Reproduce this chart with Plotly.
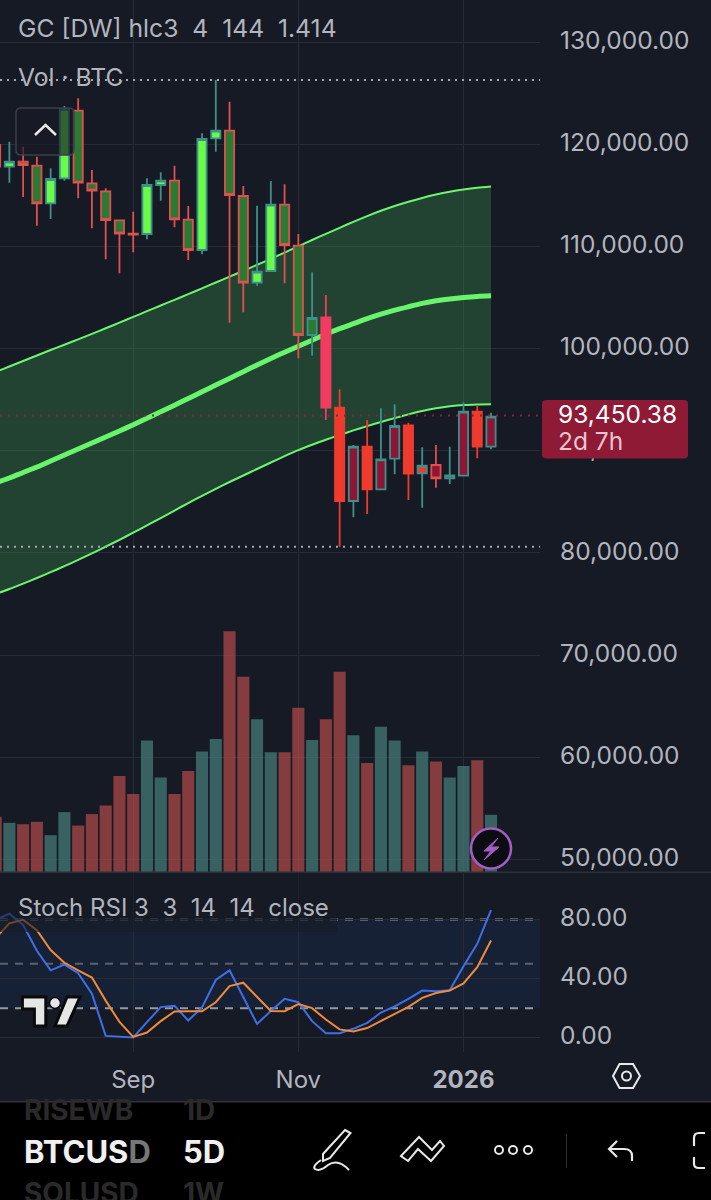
# BTCUSD 5D 图表：蜡烛 + 高斯通道 + 成交量 + Stoch RSI
import plotly.graph_objects as go

# K线索引（最后一根为 0）
bar_index = list(range(-36, 1))

candle_open = [119922, 117798, 118288, 117896, 114217, 116663, 123278, 116174, 115391, 112554, 111242, 111213, 116008,
               116428, 112612, 109648, 120577, 121321, 114931, 106448, 107593, 114080, 110068, 101330, 103063, 94217,
               85087, 90401, 86232, 89226, 92494, 87798, 88610, 87308, 87563, 93825, 90401]
candle_close = [117798, 118288, 117965, 114217, 116595, 123444, 116233, 115450, 112583, 111242, 111164, 116008, 116428,
                112652, 109648, 120509, 121321, 115029, 106448, 107525, 114080, 110137, 101330, 102993, 94217, 85087,
                90401, 86232, 89168, 92426, 87759, 88541, 87308, 87601, 93825, 90401, 93336]
candle_high = [120900, 120245, 119756, 118777, 117642, 123738, 124491, 117476, 115685, 112583, 113395, 116663, 117250,
               117896, 113953, 121067, 126282, 124159, 115910, 113982, 116399, 116076, 111213, 107465, 105244, 96017,
               90567, 93013, 94158, 94548, 92749, 90342, 90567, 90401, 94745, 94413, 93727]
candle_low = [116986, 116233, 114833, 112025, 112681, 116428, 114706, 111771, 108737, 107367, 109423, 110694, 114472,
              111869, 108669, 109227, 119266, 102534, 103551, 106154, 107593, 106389, 99051, 99305, 93013, 80617,
              83492, 83815, 86232, 87700, 85185, 84432, 86388, 86750, 87563, 89265, 90145]
candle_body = ['dark', 'bright', 'dark', 'dark', 'bright', 'bright', 'dark', 'dark', 'dark', 'dark', 'dark', 'bright',
               'bright', 'dark', 'dark', 'bright', 'bright', 'dark', 'dark', 'bright', 'bright', 'dark', 'dark', 'dark',
               'pink', 'red', 'crimson', 'red', 'crimson', 'crimson', 'red', 'red', 'crimson', 'crimson', 'crimson',
               'red', 'crimson']

band_upper = [97710, 98248, 98786, 99324, 99862, 100381, 100900, 101438, 101986, 102543, 103101, 103659, 104217,
              104775, 105332, 105900, 106467, 107035, 107612, 108199, 108786, 109393, 110009, 110626, 111233, 111820,
              112407, 112965, 113483, 113953, 114374, 114745, 115068, 115342, 115567, 115743, 115861]
band_mid = [86849, 87337, 87876, 88414, 89000, 89588, 90175, 90763, 91350, 91937, 92553, 93189, 93825, 94461, 95116,
            95772, 96428, 97083, 97739, 98400, 99032, 99648, 100234, 100822, 101409, 101947, 102436, 102925, 103366,
            103757, 104099, 104422, 104677, 104853, 105000, 105107, 105166]
band_lower = [75987, 76476, 77005, 77553, 78120, 78708, 79324, 79960, 80616, 81291, 81985, 82700, 83423, 84157, 84891,
              85595, 86280, 86946, 87582, 88219, 88855, 89472, 90059, 90585, 91076, 91545, 91995, 92416, 92818, 93199,
              93561, 93894, 94158, 94354, 94481, 94540, 94559]

volume = [55.2, 49.2, 47.8, 50.2, 36.8, 59.9, 46.5, 57.9, 66.6, 96.0, 77.9, 131.4, 94.6, 77.9, 101.0, 120.4, 133.1,
          240.8, 195.3, 152.8, 119.7, 119.7, 164.2, 132.1, 152.8, 200.3, 136.8, 109.0, 145.2, 131.4, 106.7, 120.4,
          110.4, 94.6, 106.0, 111.7, 57.2]

stoch_k = [79.8, 84.0, 76.3, 58.8, 45.6, 49.5, 43.7, 29.8, 1.2, 0.5, 0.2, 10.5, 20.7, 21.6, 11.6, 20.5, 39.1, 45.6,
           27.4, 9.3, 18.1, 26.3, 24.0, 11.2, 3.0, 3.0, 6.0, 10.0, 17.0, 21.2, 26.3, 31.9, 31.4, 32.1, 48.4, 63.5, 86.3]
stoch_d = [67.4, 77.4, 79.8, 72.8, 59.3, 50.7, 45.6, 40.7, 25.1, 10.7, 0.5, 3.5, 11.2, 17.7, 17.9, 17.9, 24.0, 34.9,
           37.2, 27.4, 18.1, 17.9, 22.8, 20.0, 12.3, 5.6, 4.2, 6.5, 11.2, 15.8, 20.9, 27.0, 30.2, 31.9, 36.7, 47.7, 65.8]

price_ticks = [50000, 60000, 70000, 80000, 90000, 100000, 110000, 120000, 130000]
stoch_ticks = [0, 40, 80]
time_tick_bars = [-26, -14, -2]
time_tick_text = ['Sep', 'Nov', '<b>2026</b>']
last_price = 93450.38

W, H = 711, 1200
BG = '#161a25'
TEAL = '#3f8f8a'
RED = '#e0504f'
TEXT = '#b2b5be'
GRID = '#272b37'
FILLS = {'bright': '#68fb48', 'dark': '#2b7a32', 'red': '#ef3a2e', 'pink': '#f23c5f', 'crimson': '#8e1535'}
FONT = 'Inter'
PRICE_RANGE = [48785, 134110]


# 像素坐标 -> paper 坐标
def px(x):
    return x / W


def py(y):
    return 1 - y / H


def path(s):
    out, is_x = [], True
    for tok in s.split():
        if tok.isalpha():
            out.append(tok)
            is_x = True
        else:
            out.append(str(px(float(tok)) if is_x else py(float(tok))))
            is_x = not is_x
    return ' '.join(out)


def line_icon(s, color='#e8e8e8', width=2.2, fill=None):
    return dict(type='path', xref='paper', yref='paper', path=path(s), layer='above',
                line=dict(color=color, width=width), fillcolor=fill or 'rgba(0,0,0,0)')


def box(x0, y0, x1, y1, fill, line=None, width=0):
    return dict(type='rect', xref='paper', yref='paper', x0=px(x0), x1=px(x1), y0=py(y1), y1=py(y0), layer='above',
                fillcolor=fill, line=dict(color=line or fill, width=width))


def round_box(x0, y0, x1, y1, r, fill, line=None, width=0):
    s = (f'M {x0 + r} {y0} L {x1 - r} {y0} Q {x1} {y0} {x1} {y0 + r} L {x1} {y1 - r} Q {x1} {y1} {x1 - r} {y1} '
         f'L {x0 + r} {y1} Q {x0} {y1} {x0} {y1 - r} L {x0} {y0 + r} Q {x0} {y0} {x0 + r} {y0} Z')
    return line_icon(s, color=line or fill, width=width, fill=fill)


def circle(cx, cy, r, fill, line, width):
    return dict(type='circle', xref='paper', yref='paper', x0=px(cx - r), x1=px(cx + r), y0=py(cy + r), y1=py(cy - r),
                layer='above', fillcolor=fill, line=dict(color=line, width=width))


def label(x, y, text, size, color=TEXT, anchor='left', family=FONT):
    return dict(xref='paper', yref='paper', x=px(x), y=py(y), text=text, showarrow=False, xanchor=anchor,
                yanchor='middle', font=dict(family=family, size=size, color=color), borderpad=0)


fig = go.Figure()

# 通道（放在底层 y 轴，蜡烛在叠加轴上才能盖住填充）
band_line = dict(color='#6cf56f', width=2, shape='spline', smoothing=0.8)
fig.add_trace(go.Scatter(x=bar_index, y=band_lower, mode='lines', line=band_line, yaxis='y'))
fig.add_trace(go.Scatter(x=bar_index, y=band_upper, mode='lines', line=band_line, fill='tonexty',
                         fillcolor='rgba(62,160,82,0.31)', yaxis='y'))
fig.add_trace(go.Scatter(x=bar_index, y=band_mid, mode='lines', yaxis='y',
                         line=dict(color='#68f56c', width=5, shape='spline', smoothing=0.8)))

# 蜡烛：按 方向+实体颜色 分组，每组一个 trace
groups = {}
for i in range(len(bar_index)):
    up = candle_close[i] >= candle_open[i]
    groups.setdefault((up, candle_body[i]), []).append(i)

for (up, body), members in groups.items():
    fill = FILLS[body]
    if up:
        edge = TEAL
    elif body in ('red', 'pink'):
        edge = fill
    else:
        edge = RED
    style = dict(line=dict(color=edge, width=1.8), fillcolor=fill)
    pick = lambda arr: [arr[i] if i in members else None for i in range(len(bar_index))]
    fig.add_trace(go.Candlestick(x=bar_index, open=pick(candle_open), high=pick(candle_high), low=pick(candle_low),
                                 close=pick(candle_close), increasing=style, decreasing=style, whiskerwidth=0,
                                 yaxis='y4'))

# 成交量
vol_colors = ['rgba(70,130,122,0.7)' if c >= o else 'rgba(179,76,74,0.7)' for o, c in zip(candle_open, candle_close)]
fig.add_trace(go.Bar(x=bar_index, y=volume, marker=dict(color=vol_colors, line=dict(width=0)), width=0.88, yaxis='y3'))

# Stoch RSI
fig.add_trace(go.Scatter(x=bar_index, y=stoch_k, mode='lines', line=dict(color='#3f6fe8', width=2), yaxis='y2'))
fig.add_trace(go.Scatter(x=bar_index, y=stoch_d, mode='lines', line=dict(color='#f08a3c', width=2), yaxis='y2'))

shapes = [
    # 通道 20-80 区域和虚线
    dict(type='rect', xref='x', yref='y2', x0=-35.68, x1=3.56, y0=20, y1=80, fillcolor='rgba(33,110,220,0.09)',
         line=dict(width=0), layer='below'),
]
for lvl, col in [(80, '#9598a1'), (50, '#5d606b'), (20, '#9598a1')]:
    shapes.append(dict(type='line', xref='x', yref='y2', x0=-35.68, x1=3.56, y0=lvl, y1=lvl, layer='below',
                       line=dict(color=col, width=2, dash='8px,7px')))
for lvl in [candle_high[16], candle_low[25]]:
    shapes.append(dict(type='line', xref='x', yref='y', x0=-35.68, x1=3.56, y0=lvl, y1=lvl, layer='above',
                       line=dict(color='#a6a9b3', width=2, dash='2px,5px')))
shapes.append(dict(type='line', xref='x', yref='y', x0=-35.68, x1=3.56, y0=last_price, y1=last_price, layer='above',
                   line=dict(color='#8e1f3a', width=2, dash='2px,6px')))

shapes += [
    # 图例底色、分隔线
    box(0, 873, 337, 932, 'rgba(22,26,37,0.6)'),
    box(0, 871.5, W, 873, '#2a2e39'),
    # 现价标签
    round_box(542, 400, 688, 458.5, 4, '#8e1a36'),
    # 折叠按钮
    round_box(16, 108, 74, 155, 5, 'rgba(24,27,38,0.68)', '#3c3f4a', 1.5),
    line_icon('M 35 135 L 45.5 125 L 56 135', width=2.5),
    # 闪电按钮
    circle(491, 848.5, 20, '#0c0d12', '#a45cc6', 2.5),
    line_icon('M 498 838 L 484 851 L 491 851 L 484 860 L 499 847 L 491 847 Z', color='#a45cc6', width=1, fill='#a45cc6'),
    # TV 标志
    line_icon('M 22.4 997 L 45.8 997 L 45.8 1026 L 34.4 1026 L 34.4 1009 L 22.4 1009 Z', color='#0a0a0a', width=3, fill='#e6e6e6'),
    line_icon('M 67 997 L 80 997 L 67 1026 L 55 1026 Z', color='#0a0a0a', width=3, fill='#e6e6e6'),
    circle(55, 1003, 5.5, '#e6e6e6', '#0a0a0a', 1.5),
    # 齿轮
    line_icon('M 613 1076 L 619.5 1064 L 633 1064 L 640 1076 L 633 1088 L 619.5 1088 Z', width=2),
    circle(626.5, 1076, 4.5, 'rgba(0,0,0,0)', '#e8e8e8', 2),
    # 底部工具栏
    box(0, 1101, W, 1200, '#000000'),
    box(0, 1101, W, 1102.5, '#2f323c'),
    box(566, 1134, 566.8, 1168, '#3a3a3a'),
    line_icon('M 345 1130 L 350.5 1133 L 330 1158 L 323 1161 L 323 1154 Z', width=2),
    line_icon('M 321 1160 Q 312 1166 315 1169 Q 320 1172 328 1165 Q 338 1158 349 1170', width=2),
    line_icon('M 401 1156 L 419 1137 L 432 1150 L 440 1141 L 444 1146 L 431 1161 L 418 1149 L 408 1161 Z', width=2),
    circle(499, 1150, 4, 'rgba(0,0,0,0)', '#e8e8e8', 2),
    circle(513, 1150, 4, 'rgba(0,0,0,0)', '#e8e8e8', 2),
    circle(528, 1150, 4, 'rgba(0,0,0,0)', '#e8e8e8', 2),
    line_icon('M 632 1161 L 632 1156 Q 632 1149 624 1149 L 609 1149 M 617 1141 L 609 1149 L 617 1157', fill='rgba(0,0,0,0)'),
    line_icon('M 705 1133 L 699 1133 Q 694 1133 694 1138 L 694 1146 M 694 1157 L 694 1164 Q 694 1168 699 1168 L 705 1168',
              fill='rgba(0,0,0,0)'),
]

annotations = [
    label(16.5, 28, 'GC [DW] hlc3&nbsp; 4&nbsp; 144&nbsp; 1.414', 24.7),
    label(16.5, 77, 'Vol · BTC', 24.7),
    label(16.5, 907, 'Stoch RSI 3&nbsp; 3&nbsp; 14&nbsp; 14&nbsp; close', 24),
    label(557, 414, '93,450.38', 24.5, '#ffffff'),
    label(557, 441, '2d 7h', 24.5, '#e8c4cf'),
    label(23, 1151, '<b>BTCUS<span style="color:#777777">D</span></b>', 31, '#f0f0f0'),
    label(182, 1151, '<b>5D</b>', 31, '#f0f0f0'),
    label(23, 1110, '<b>RISEWB</b>', 28, '#2a2a2a'),
    label(182, 1110, '<b>1D</b>', 28, '#2a2a2a'),
    label(23, 1193, '<b>SOLUSD</b>', 28, '#2a2a2a'),
    label(182, 1193, '<b>1W</b>', 28, '#2a2a2a'),
]

fig.update_layout(
    width=W, height=H,
    margin=dict(l=0, r=0, t=0, b=0),
    autosize=False,
    paper_bgcolor=BG, plot_bgcolor=BG,
    showlegend=False,
    boxmode='overlay',
    boxgap=0.33,
    boxgroupgap=0,
    bargap=0.1,
    font=dict(family=FONT, color=TEXT, size=22),
    xaxis=dict(domain=[0, 540 / W], range=[-35.68, 3.56], anchor='y2', tickmode='array', tickvals=time_tick_bars,
               ticktext=time_tick_text, showgrid=True, gridcolor=GRID, gridwidth=1, zeroline=False, showline=False,
               ticks='', ticklabelstandoff=11, rangeslider=dict(visible=False), tickfont=dict(size=24, color=TEXT)),
    yaxis=dict(domain=[1 - 872 / H, 1], range=PRICE_RANGE, side='right', anchor='x', tickmode='array',
               tickvals=price_ticks, tickformat=',.2f', showgrid=True, gridcolor=GRID, zeroline=False, showline=False,
               ticks='', ticklabelstandoff=19, ticklabelshift=-2, tickfont=dict(size=24.5, color=TEXT)),
    yaxis2=dict(domain=[1 - 1052 / H, 1 - 873 / H], range=[-9.7, 111.5], side='right', anchor='x', tickmode='array',
                tickvals=stoch_ticks, tickformat='.2f', showgrid=True, gridcolor=GRID, zeroline=False, showline=False,
                ticks='', ticklabelstandoff=19, ticklabelshift=-2, tickfont=dict(size=24.5, color=TEXT)),
    yaxis3=dict(domain=[1 - 872 / H, 1], range=[0, 872], overlaying='y', anchor='x', visible=False),
    yaxis4=dict(domain=[1 - 872 / H, 1], range=PRICE_RANGE, overlaying='y', anchor='x', visible=False),
    shapes=shapes,
    annotations=annotations,
)

# 去掉 body 默认边距，图表贴满窗口
fig.write_html("out.html", config={'displayModeBar': False}, post_script="document.body.style.margin='0';")
